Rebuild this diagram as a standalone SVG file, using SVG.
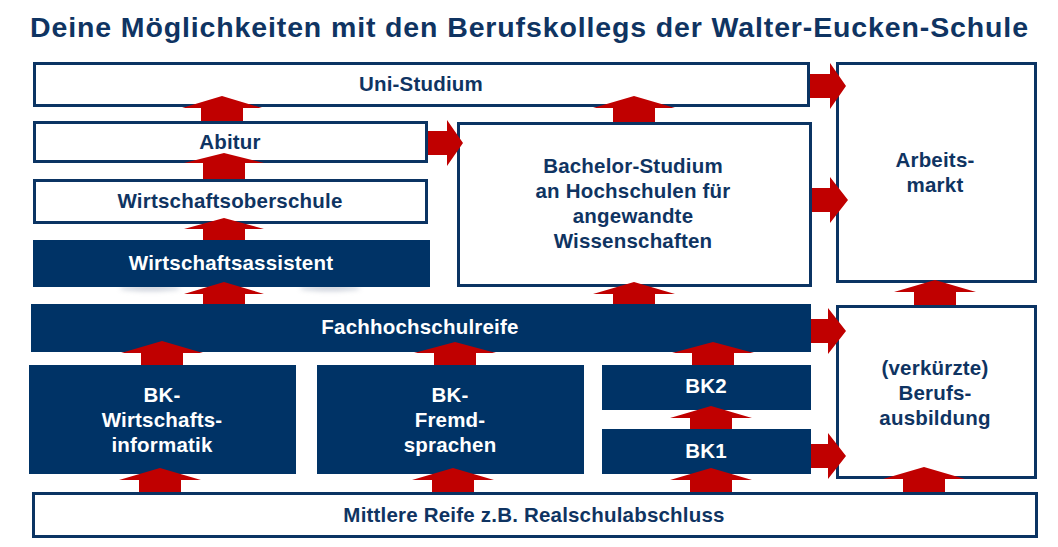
<svg xmlns="http://www.w3.org/2000/svg" width="1058" height="547" viewBox="0 0 1058 547">
<style>
.ob{fill:#fff;stroke:#0b3463;stroke-width:3}
.fb{fill:#003366}
.t{font-family:"Liberation Sans",Arial,sans-serif;font-weight:bold;font-size:20.5px;letter-spacing:0.2px;text-anchor:middle}
.d{fill:#0f3462}
.w{fill:#fff}
.a{fill:#c00000}
</style>
<defs>
<filter id="bl" x="-50%" y="-200%" width="200%" height="500%"><feGaussianBlur stdDeviation="2.5"/></filter>
</defs>
<rect width="1058" height="547" fill="#fff"/>
<text x="30" y="37" class="t d" style="font-size:28.5px;text-anchor:start;letter-spacing:0" textLength="998" lengthAdjust="spacing">Deine Möglichkeiten mit den Berufskollegs der Walter-Eucken-Schule</text>

<ellipse cx="150" cy="288" rx="30" ry="3" fill="#9aa3b5" opacity="0.5" filter="url(#bl)"/>
<ellipse cx="330" cy="288" rx="30" ry="3" fill="#9aa3b5" opacity="0.5" filter="url(#bl)"/>

<g id="uni"><rect class="ob" x="34.5" y="63.5" width="774" height="42"/><text class="t d" x="421" y="91">Uni-Studium</text></g>
<g id="abitur"><rect class="ob" x="34.5" y="122.5" width="392" height="39"/><text class="t d" x="230" y="149">Abitur</text></g>
<g id="wos"><rect class="ob" x="34.5" y="180.5" width="392" height="42"/><text class="t d" x="230" y="208">Wirtschaftsoberschule</text></g>
<g id="wa"><rect class="fb" x="33" y="240" width="397" height="47"/><text class="t w" x="231" y="270">Wirtschaftsassistent</text></g>
<g id="bachelor"><rect class="ob" x="458.5" y="123.5" width="352" height="162"/>
<text class="t d" x="633" y="173">Bachelor-Studium</text>
<text class="t d" x="633" y="198">an Hochschulen für</text>
<text class="t d" x="633" y="223">angewandte</text>
<text class="t d" x="633" y="248">Wissenschaften</text></g>
<g id="arbeitsmarkt"><rect class="ob" x="837.5" y="63.5" width="198" height="218"/>
<text class="t d" x="935" y="167">Arbeits-</text><text class="t d" x="935" y="192">markt</text></g>
<g id="fhr"><rect class="fb" x="31" y="304" width="780" height="48"/><text class="t w" x="420" y="334">Fachhochschulreife</text></g>
<g id="bkwi"><rect class="fb" x="29" y="365" width="267" height="109"/>
<text class="t w" x="162" y="402">BK-</text><text class="t w" x="162" y="427">Wirtschafts-</text><text class="t w" x="162" y="452">informatik</text></g>
<g id="bkfs"><rect class="fb" x="317" y="365" width="267" height="109"/>
<text class="t w" x="450" y="402">BK-</text><text class="t w" x="450" y="427">Fremd-</text><text class="t w" x="450" y="452">sprachen</text></g>
<g id="bk2"><rect class="fb" x="602" y="365" width="209" height="45"/><text class="t w" x="706" y="393">BK2</text></g>
<g id="bk1"><rect class="fb" x="602" y="429" width="209" height="45"/><text class="t w" x="706" y="458">BK1</text></g>
<g id="beruf"><rect class="ob" x="837.5" y="306.5" width="198" height="171"/>
<text class="t d" x="935" y="375">(verkürzte)</text><text class="t d" x="935" y="400">Berufs-</text><text class="t d" x="935" y="425">ausbildung</text></g>
<g id="mr"><rect class="ob" x="33.5" y="493.5" width="1003" height="43"/><text class="t d" x="534" y="522">Mittlere Reife z.B. Realschulabschluss</text></g>

<g id="connectors">
<polygon class="a" points="222,96 262,108 243,108 243,121 201,121 201,108 182,108"/>
<polygon class="a" points="224,153 264,163 245,163 245,179 203,179 203,163 184,163"/>
<polygon class="a" points="224,218 264,229 245,229 245,240 203,240 203,229 184,229"/>
<polygon class="a" points="224,282 264,294 245,294 245,304 203,304 203,294 184,294"/>
<polygon class="a" points="634,96 675,108 655,108 655,122 613,122 613,108 593,108"/>
<polygon class="a" points="634,282 675,294 655,294 655,304 613,304 613,294 593,294"/>
<polygon class="a" points="935,280 976,292 956,292 956,305 914,305 914,292 894,292"/>
<polygon class="a" points="162,341 203,353 183,353 183,365 141,365 141,353 121,353"/>
<polygon class="a" points="455,342 496,353 476,353 476,365 434,365 434,353 414,353"/>
<polygon class="a" points="713,342 754,353 734,353 734,365 692,365 692,353 672,353"/>
<polygon class="a" points="711,406 752,418 732,418 732,429 690,429 690,418 670,418"/>
<polygon class="a" points="160,468 201,480 181,480 181,492 139,492 139,480 119,480"/>
<polygon class="a" points="453,468 494,480 474,480 474,492 432,492 432,480 412,480"/>
<polygon class="a" points="711,468 752,480 732,480 732,492 690,492 690,480 670,480"/>
<polygon class="a" points="924,467 965,479 945,479 945,492 903,492 903,479 883,479"/>
<polygon class="a" points="810,74 830,74 830,63 846,86 830,109 830,98 810,98"/>
<polygon class="a" points="812,188 830,188 830,177 848,200 830,223 830,212 812,212"/>
<polygon class="a" points="428,131 447,131 447,120 463,143 447,166 447,155 428,155"/>
<polygon class="a" points="811,319 828,319 828,308 846,331 828,354 828,343 811,343"/>
<polygon class="a" points="811,444 828,444 828,433 846,456 828,479 828,468 811,468"/>
</g>
</svg>
